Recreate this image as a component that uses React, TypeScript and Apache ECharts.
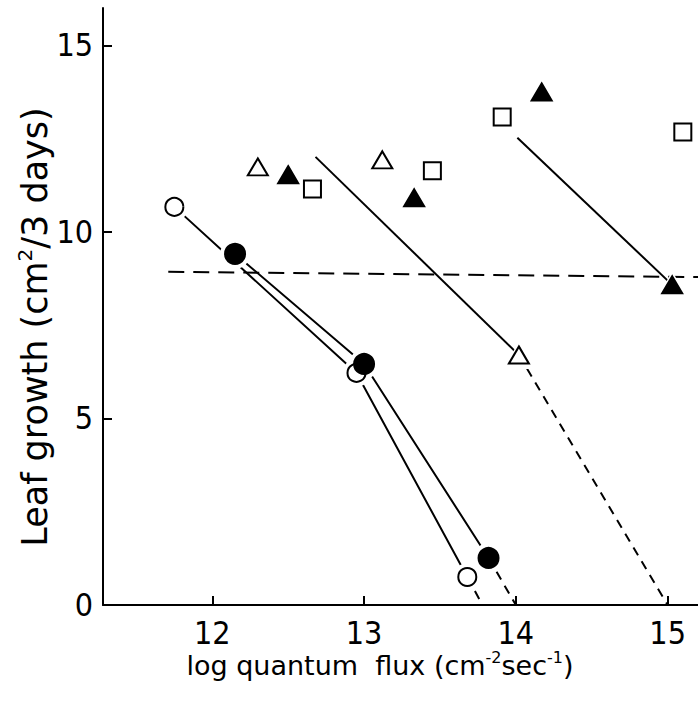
import React, { useEffect, useRef } from "react";
import * as echarts from "echarts";

// Data
const openCircles = [[11.75, 10.67], [12.95, 6.22], [13.68, 0.75]];
const openCircleExt = [[13.68, 0.75], [13.78, 0]];
const filledCircles = [[12.15, 9.41], [13.0, 6.46], [13.82, 1.26]];
const filledCircleExt = [[13.82, 1.26], [14.0, 0]];
const openTriangles = [[12.3, 11.74], [13.12, 11.93], [14.02, 6.7]];
const filledTriangles = [[12.5, 11.53], [13.33, 10.91], [14.17, 13.75], [15.03, 8.58]];
const squares = [[12.66, 11.15], [13.45, 11.64], [13.91, 13.08], [15.1, 12.68]];
const midLine = [[12.68, 12.01], [14.02, 6.7]];
const midLineExt = [[14.02, 6.7], [15.0, 0]];
const rightLine = [[14.01, 12.52], [15.03, 8.58]];
const thresholdLine = [[11.71, 8.93], [15.2, 8.79]];
const xTicks = [12, 13, 14, 15];
const yTicks = [0, 5, 10, 15];
const xTitle = "{a|log quantum  flux (cm}{s|-2}{a|sec}{s|-1}{a|)}";
const yTitle = "{a|Leaf growth (cm}{s|2}{a|/3 days)}";

const FONT = "'Liberation Sans Narrow', 'DejaVu Sans Condensed', 'DejaVu Sans', sans-serif";
const TITLE_FONT = "'DejaVu Sans', sans-serif";

export default function App() {
  const ref = useRef<HTMLDivElement>(null);
  useEffect(() => {
    if (!ref.current) return;
    const chart = echarts.init(ref.current, null, { renderer: "svg" });
    const line = (data: number[][], dashed: boolean | number[] = false) => ({
      type: "line",
      data,
      symbol: "none",
      z: 1,
      silent: true,
      lineStyle: {
        color: "#000",
        width: 2,
        type: dashed === true ? [9, 7] : dashed === false ? "solid" : dashed,
      },
    });
    const halo = (data: number[][], symbol: string, size: number | number[]) => ({
      type: "scatter",
      data,
      symbol,
      symbolSize: size,
      z: 3,
      silent: true,
      itemStyle: { color: "#fff", borderWidth: 0, opacity: 1 },
    });
    const marker = (data: number[][], symbol: string, size: number | number[], filled: boolean) => ({
      type: "scatter",
      data,
      symbol,
      symbolSize: size,
      z: 4,
      silent: true,
      itemStyle: {
        color: filled ? "#000" : "#fff",
        borderColor: "#000",
        borderWidth: 2,
        opacity: 1,
      },
    });
    chart.setOption({
      animation: false,
      backgroundColor: "#fff",
      grid: { left: 103, right: 0, top: 8, bottom: 111, containLabel: false, outerBoundsMode: "none" },
      xAxis: {
        type: "value",
        min: 11.28,
        max: 15.2,
        splitLine: { show: false },
        axisLine: { show: true, onZero: false, lineStyle: { color: "#000", width: 2 } },
        axisTick: { show: true, inside: true, length: 9, customValues: xTicks, lineStyle: { color: "#000", width: 2 } },
        axisLabel: { customValues: xTicks, color: "#000", fontSize: 32, fontFamily: FONT, margin: 12 },
      },
      yAxis: {
        type: "value",
        min: 0,
        max: 16,
        interval: 5,
        splitLine: { show: false },
        axisLine: { show: true, onZero: false, lineStyle: { color: "#000", width: 2 } },
        axisTick: { show: true, inside: true, length: 9, customValues: yTicks, lineStyle: { color: "#000", width: 2 } },
        axisLabel: { customValues: yTicks, color: "#000", fontSize: 32, fontFamily: FONT, margin: 10 },
      },
      graphic: [
        {
          type: "text",
          x: 380,
          y: 665,
          silent: true,
          style: {
            text: xTitle,
            align: "center",
            verticalAlign: "middle",
            rich: {
              a: { fontSize: 27, fontFamily: TITLE_FONT, fill: "#000", lineHeight: 32 },
              s: { fontSize: 16, fontFamily: TITLE_FONT, fill: "#000", verticalAlign: "top", lineHeight: 16 },
            },
          },
        },
        {
          type: "text",
          x: 35,
          y: 327,
          rotation: Math.PI / 2,
          silent: true,
          style: {
            text: yTitle,
            align: "center",
            verticalAlign: "middle",
            rich: {
              a: { fontSize: 35, fontFamily: TITLE_FONT, fill: "#000", lineHeight: 40 },
              s: { fontSize: 20, fontFamily: TITLE_FONT, fill: "#000", verticalAlign: "top", lineHeight: 20 },
            },
          },
        },
      ],
      series: [
        line(thresholdLine, [16, 9]),
        line(openCircles),
        line(openCircleExt, true),
        line(filledCircles),
        line(filledCircleExt, true),
        line(midLine),
        line(midLineExt, true),
        line(rightLine),
        halo(openCircles, "circle", 28),
        halo(filledCircles, "circle", 30),
        halo(openTriangles, "triangle", [30, 28]),
        halo(filledTriangles, "triangle", [30, 28]),
        marker(openCircles, "circle", 18, false),
        marker(filledCircles, "circle", 20, true),
        marker(openTriangles, "triangle", [20, 17], false),
        marker(filledTriangles, "triangle", [20, 17], true),
        marker(squares, "rect", 17, false),
      ],
    });
    return () => chart.dispose();
  }, []);
  return (
    <div
      ref={ref}
      style={{ position: "absolute", left: 0, top: 0, width: 698, height: 716, overflow: "hidden" }}
    />
  );
}
